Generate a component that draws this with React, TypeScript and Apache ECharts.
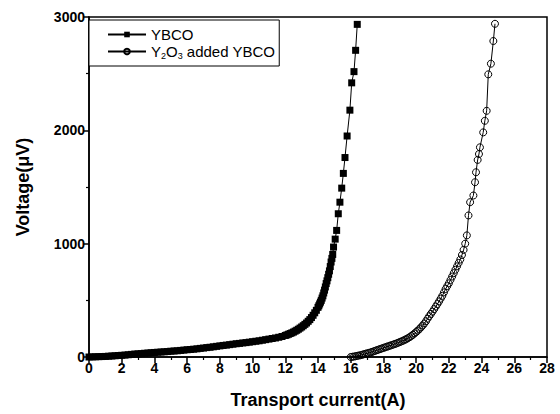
import React, { useEffect, useRef } from "react";
import * as echarts from "echarts";

const ybcoCurrent = [
  0, 0.2, 0.4, 0.6, 0.8, 1.0, 1.2, 1.4, 1.6, 1.8, 2.0, 2.2, 2.4, 2.6, 2.8, 3.0, 3.2, 3.4, 3.6, 3.8,
  4.0, 4.2, 4.4, 4.6, 4.8, 5.0, 5.2, 5.4, 5.6, 5.8, 6.0, 6.2, 6.4, 6.6, 6.8, 7.0, 7.2, 7.4, 7.6, 7.8,
  8.0, 8.2, 8.4, 8.6, 8.8, 9.0, 9.2, 9.4, 9.6, 9.8, 10.0, 10.2, 10.4, 10.6, 10.8, 11.0, 11.2, 11.4, 11.6, 11.8,
  12.0, 12.1, 12.2, 12.3, 12.4, 12.5, 12.6, 12.7, 12.8, 12.9, 13.0, 13.1, 13.2, 13.3, 13.4, 13.5, 13.6, 13.7,
  13.8, 13.9, 14.0, 14.05, 14.1, 14.15, 14.2, 14.25, 14.3, 14.35, 14.4, 14.45, 14.5, 14.55, 14.6, 14.65, 14.7,
  14.75, 14.8, 14.85, 14.9, 14.95, 15.05, 15.14, 15.24, 15.34,
  15.45, 15.55, 15.65, 15.78, 15.95, 16.06, 16.2, 16.3, 16.4,
];
const ybcoVoltage = [
  0, 1, 2, 3, 4, 5, 7, 9, 11, 13, 15, 17, 20, 23, 26, 28, 30, 33, 35, 38,
  40, 42, 44, 46, 48, 51, 53, 55, 58, 61, 64, 66, 69, 72, 76, 79, 83, 86, 90, 94,
  98, 102, 105, 109, 113, 117, 120, 124, 127, 131, 135, 139, 143, 148, 153, 158, 163, 168, 174, 181,
  190, 195, 201, 207, 213, 220, 228, 236, 245, 255, 265, 276, 288, 300, 315, 330, 348, 368,
  390, 412, 438, 452, 468, 484, 500, 520, 540, 565, 590, 618, 648, 672, 700, 730, 760,
  798, 838, 870, 905, 970, 1040, 1117, 1264, 1366,
  1490, 1620, 1760, 1950, 2178, 2419, 2518, 2706, 2935,
];

const y2o3Current = [
  16.0, 16.1, 16.2, 16.3, 16.4, 16.5, 16.6, 16.7, 16.8, 16.9, 17.0, 17.1, 17.2, 17.3, 17.4, 17.5, 17.6, 17.7,
  17.8, 17.9, 18.0, 18.1, 18.2, 18.3, 18.4, 18.5, 18.6, 18.7, 18.8, 18.9, 19.0, 19.1, 19.2, 19.3, 19.4, 19.5,
  19.6, 19.7, 19.8, 19.9, 20.0, 20.1, 20.2, 20.3, 20.4, 20.5, 20.6, 20.7, 20.8, 20.9, 21.0, 21.1, 21.2, 21.3,
  21.4, 21.5, 21.6, 21.7, 21.8, 21.9, 22.0, 22.1, 22.2, 22.3, 22.4, 22.5, 22.6, 22.7, 22.8, 22.9, 23.0, 23.1,
  23.2, 23.3, 23.5, 23.6, 23.66, 23.76, 23.84, 23.9, 24.1, 24.2, 24.31, 24.41, 24.57, 24.72, 24.82,
];
const y2o3Voltage = [
  0, 2, 4, 7, 10, 13, 16, 20, 24, 28, 32, 36, 40, 45, 50, 55, 60, 65,
  70, 75, 80, 85, 90, 95, 100, 105, 110, 115, 120, 126, 132, 138, 144, 151, 158, 166,
  175, 185, 196, 208, 220, 233, 247, 262, 278, 296, 315, 338, 360, 380, 400, 422, 445, 467,
  490, 515, 540, 570, 600, 625, 650, 680, 710, 740, 770, 800, 830, 860, 900, 945, 1000, 1073,
  1249, 1366, 1425, 1542, 1630, 1739, 1791, 1850, 1982, 2084, 2172, 2494, 2588, 2788, 2940,
];

const seriesNames = ["YBCO", "Y2O3 added YBCO"];
const xTicks = { min: 0, max: 28, interval: 2 };
const yTicks = { min: 0, max: 3000, interval: 1000 };

const pair = (xs: number[], ys: number[]) => xs.map((x, i) => [x, ys[i]]);

export default function App() {
  const ref = useRef<HTMLDivElement>(null);
  useEffect(() => {
    if (!ref.current) return;
    const chart = echarts.init(ref.current, undefined, { renderer: "svg" });
    const font = "Liberation Sans, Arial, sans-serif";
    const axisCommon = {
      axisLine: { show: true, lineStyle: { color: "#000", width: 1.5 } },
      axisTick: { show: true, inside: false, length: 6, lineStyle: { color: "#000", width: 1.5 } },
      minorTick: { show: true, splitNumber: 2, length: 3, lineStyle: { color: "#000", width: 1.2 } },
      splitLine: { show: false },
      nameTextStyle: { color: "#000", fontFamily: font, fontWeight: "bold", fontSize: 18 },
    };
    const labelStyle = { color: "#000", fontFamily: font, fontWeight: "bold", fontSize: 14, margin: 4 };
    chart.setOption({
      animation: false,
      backgroundColor: "#fff",
      grid: {
        left: 89,
        right: 13,
        top: 17,
        bottom: 57,
        show: true,
        borderColor: "#000",
        borderWidth: 1.5,
        backgroundColor: "transparent",
      },
      legend: {
        orient: "vertical",
        left: 89,
        top: 20,
        padding: [7, 4, 6, 18],
        itemGap: 2,
        itemWidth: 38,
        itemHeight: 7,
        borderColor: "#000",
        borderWidth: 1,
        backgroundColor: "#fff",
        data: seriesNames,
        textStyle: {
          color: "#000",
          fontFamily: font,
          fontSize: 15,
          rich: {
            n: { fontFamily: font, fontSize: 15, color: "#000" },
            s: { fontFamily: font, fontSize: 9, color: "#000", padding: [8, 0, 0, 0] },
          },
        },
        formatter: (name: string) =>
          name === seriesNames[1] ? "{n|Y}{s|2}{n|O}{s|3}{n| added YBCO}" : name,
      },
      xAxis: {
        type: "value",
        ...xTicks,
        ...axisCommon,
        axisLabel: labelStyle,
        name: "Transport current(A)",
        nameLocation: "middle",
        nameGap: 34,
      },
      yAxis: {
        type: "value",
        ...yTicks,
        ...axisCommon,
        axisLabel: { ...labelStyle, formatter: (v: number) => String(v) },
        name: "Voltage(\u03bcV)",
        nameLocation: "middle",
        nameGap: 57,
      },
      series: [
        {
          name: seriesNames[0],
          type: "line",
          data: pair(ybcoCurrent, ybcoVoltage),
          symbol: "rect",
          symbolSize: 7,
          showSymbol: true,
          lineStyle: { color: "#000", width: 1 },
          itemStyle: { color: "#000" },
          z: 3,
        },
        {
          name: seriesNames[1],
          type: "line",
          data: pair(y2o3Current, y2o3Voltage),
          symbol: "circle",
          symbolSize: 7,
          showSymbol: true,
          lineStyle: { color: "#000", width: 1 },
          itemStyle: { color: "rgba(255,255,255,0)", borderColor: "#000", borderWidth: 1 },
          z: 2,
        },
      ],
    });
    return () => chart.dispose();
  }, []);
  return <div ref={ref} style={{ width: 560, height: 414, position: "absolute", left: 0, top: 0 }} />;
}
